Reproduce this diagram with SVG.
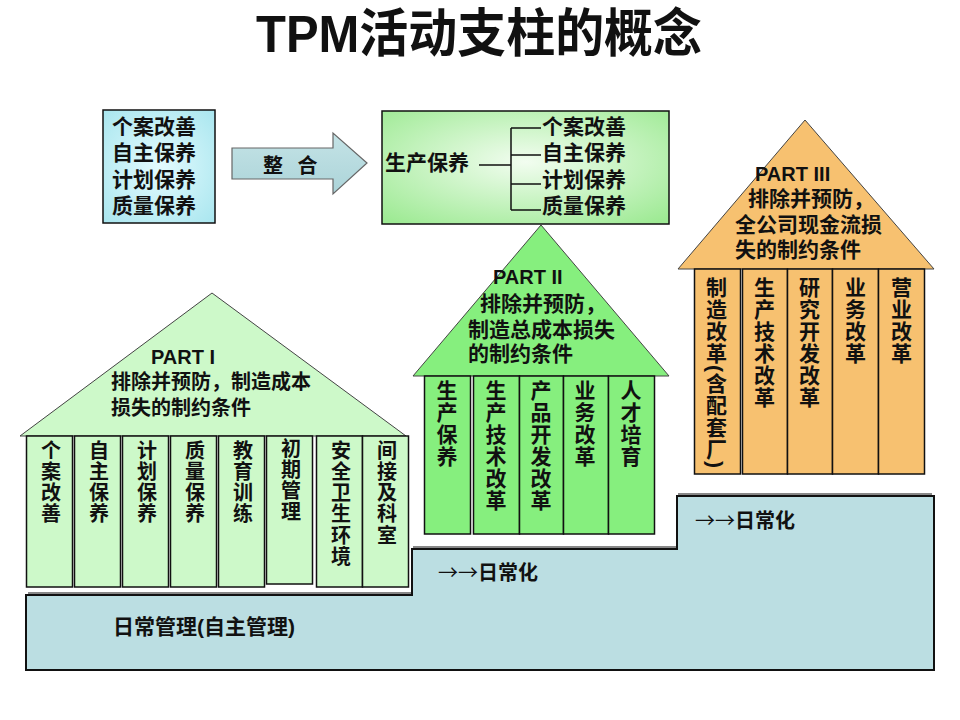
<svg xmlns="http://www.w3.org/2000/svg" width="960" height="720" viewBox="0 0 960 720">
<defs>
<radialGradient id="gCyan" cx="50%" cy="50%" r="70%">
<stop offset="0" stop-color="#e4fbfe"/><stop offset="1" stop-color="#a9e6ef"/>
</radialGradient>
<radialGradient id="gGreen" cx="50%" cy="45%" r="70%">
<stop offset="0" stop-color="#f2fdf0"/><stop offset="1" stop-color="#9eea94"/>
</radialGradient>
<linearGradient id="gArrow" x1="0" y1="0" x2="0" y2="1">
<stop offset="0" stop-color="#c4e3e6"/><stop offset="1" stop-color="#acd4d9"/>
</linearGradient>
<style>
text{font-family:"Liberation Sans","Noto Sans CJK SC",sans-serif;font-weight:bold;fill:#111}
.t21{font-size:21px}
.t20{font-size:20px}
.arr{font-family:"Noto Sans CJK SC",sans-serif;font-weight:normal}
.v{writing-mode:vertical-rl;font-size:20px;letter-spacing:1.3px}
.v2{writing-mode:vertical-rl;font-size:21px;letter-spacing:1px}
.box{stroke:#111;stroke-width:1.5}
.c1{fill:#cdf9c9;stroke:#111;stroke-width:1.5}
.c2{fill:#86ef7e;stroke:#111;stroke-width:1.5}
.c3{fill:#f7c170;stroke:#111;stroke-width:1.5}
.roof{stroke:#444;stroke-width:1}
.ln{stroke:#111;stroke-width:1.5;fill:none}
</style>
</defs>
<rect width="960" height="720" fill="#ffffff"/>

<g id="title">
<text x="479" y="52" text-anchor="middle" style="font-size:52px" textLength="446" lengthAdjust="spacingAndGlyphs">TPM活动支柱的概念</text>
</g>

<g id="base">
<polyline points="28,593 414,593 414,547 679,547 679,494 932,494" fill="none" stroke="#888" stroke-width="2"/>
<polygon points="26,595 412,595 412,549 677,549 677,496 934,496 934,670 26,670" fill="#bbdee2" stroke="#111" stroke-width="2"/>
<text class="t21" x="113" y="634">日常管理(自主管理)</text>
<text class="t20" x="438" y="580"><tspan class="arr">→→</tspan>日常化</text>
<text class="t20" x="695" y="528"><tspan class="arr">→→</tspan>日常化</text>
</g>

<g id="old-list">
<rect x="103" y="110" width="112" height="113" fill="url(#gCyan)" class="box"/>
<text class="t21" x="112" y="134">个案改善</text>
<text class="t21" x="112" y="160">自主保养</text>
<text class="t21" x="112" y="187">计划保养</text>
<text class="t21" x="112" y="213">质量保养</text>
</g>

<g id="integrate-arrow">
<polygon points="232,148 333,148 333,133 367,163 333,194 333,179 232,179" fill="url(#gArrow)" stroke="#666" stroke-width="1.2"/>
<text class="t20" x="263" y="173" word-spacing="9">整 合</text>
</g>

<g id="production-maintenance">
<rect x="382" y="111" width="287" height="113" fill="url(#gGreen)" class="box"/>
<text class="t21" x="385" y="170">生产保养</text>
<text class="t21" x="542" y="134">个案改善</text>
<text class="t21" x="542" y="160">自主保养</text>
<text class="t21" x="542" y="187">计划保养</text>
<text class="t21" x="542" y="213">质量保养</text>
</g>

<g id="connectors">
<path class="ln" d="M479,165 H511 M511,128 V210 M511,128 H541 M511,155 H541 M511,184 H541 M511,210 H541"/>
</g>

<g id="part1">
<polygon class="roof" points="212,293 20,436 406,436" fill="#cdf9c9"/>
<text class="t20" x="151" y="364">PART I</text>
<text class="t20" x="111" y="389">排除并预防，制造成本</text>
<text class="t20" x="111" y="415">损失的制约条件</text>
<rect class="c1" x="26.5" y="436" width="46" height="151"/>
<rect class="c1" x="74.5" y="436" width="46" height="151"/>
<rect class="c1" x="122.5" y="436" width="46" height="151"/>
<rect class="c1" x="170.5" y="436" width="46" height="151"/>
<rect class="c1" x="218.5" y="436" width="46" height="151"/>
<rect class="c1" x="266.5" y="436" width="46" height="148"/>
<rect class="c1" x="316.5" y="436" width="46" height="151"/>
<rect class="c1" x="362.5" y="436" width="46" height="151"/>
<text class="v" x="49.5" y="440">个案改善</text>
<text class="v" x="97.5" y="440">自主保养</text>
<text class="v" x="145.5" y="440">计划保养</text>
<text class="v" x="193.5" y="440">质量保养</text>
<text class="v" x="241.5" y="440">教育训练</text>
<text class="v" x="289.5" y="438">初期管理</text>
<text class="v" x="339.5" y="440">安全卫生环境</text>
<text class="v" x="385.5" y="440">间接及科室</text>
</g>

<g id="part2">
<polygon class="roof" points="541,225 413,376 669,376" fill="#86ef7e"/>
<text class="t20" x="493" y="284">PART II</text>
<text class="t21" x="480" y="311">排除并预防，</text>
<text class="t21" x="468" y="337">制造总成本损失</text>
<text class="t21" x="468" y="361">的制约条件</text>
<rect class="c2" x="424.5" y="376" width="46" height="158"/>
<rect class="c2" x="473.5" y="376" width="46" height="158"/>
<rect class="c2" x="519.5" y="376" width="44" height="158"/>
<rect class="c2" x="563.5" y="376" width="45" height="158"/>
<rect class="c2" x="608.5" y="376" width="46" height="158"/>
<text class="v2" x="445.5" y="380">生产保养</text>
<text class="v2" x="494.5" y="380">生产技术改革</text>
<text class="v2" x="539.5" y="380">产品开发改革</text>
<text class="v2" x="583.5" y="380">业务改革</text>
<text class="v2" x="629.5" y="380">人才培育</text>
</g>

<g id="part3">
<polygon class="roof" points="805,120 678,269 934,269" fill="#f7c170"/>
<text class="t20" x="755" y="181">PART III</text>
<text class="t21" x="748" y="206">排除并预防，</text>
<text class="t21" x="735" y="232">全公司现金流损</text>
<text class="t21" x="735" y="257">失的制约条件</text>
<rect class="c3" x="694.5" y="269" width="46" height="205"/>
<rect class="c3" x="742.5" y="269" width="45" height="205"/>
<rect class="c3" x="787.5" y="269" width="45" height="205"/>
<rect class="c3" x="832.5" y="269" width="46" height="205"/>
<rect class="c3" x="878.5" y="269" width="46" height="205"/>
<text class="v2" x="715" y="277">制造改革(含配套厂)</text>
<text class="v2" x="763" y="277">生产技术改革</text>
<text class="v2" x="808" y="277">研究开发改革</text>
<text class="v2" x="854" y="277">业务改革</text>
<text class="v2" x="900" y="277">营业改革</text>
</g>
</svg>
